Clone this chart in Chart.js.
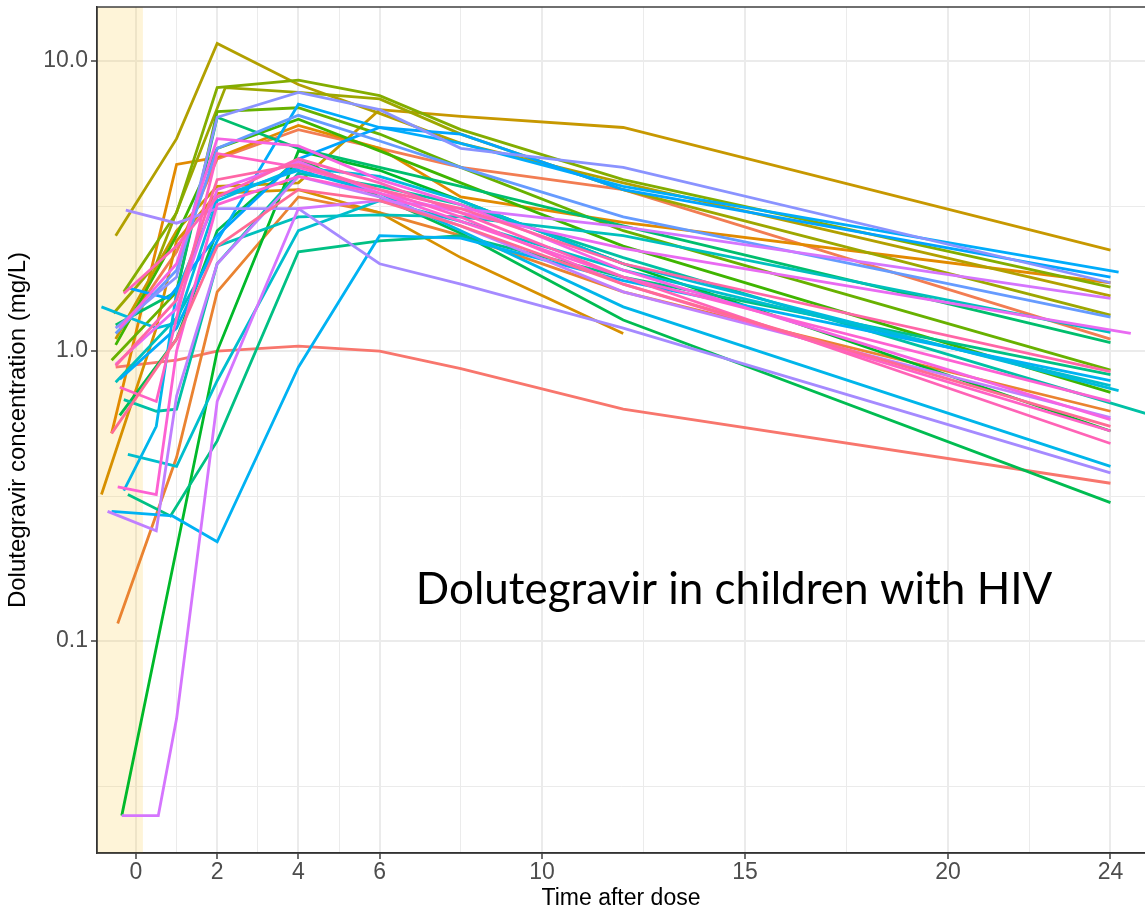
<!DOCTYPE html>
<html>
<head>
<meta charset="utf-8">
<script src="https://cdn.jsdelivr.net/npm/chart.js@4.4.1/dist/chart.umd.min.js"></script>
<style>
  html, body { margin: 0; padding: 0; background: #fff; }
  #wrap { width: 1145px; height: 913px; }
</style>
</head>
<body>
<div id="wrap"><canvas id="pk"></canvas></div>
<script>
// sampling times (h after dose) per participant, negative = pre-dose trough
const sampleTimes = [
  [-0.5, 1, 2, 4, 6, 8, 12, 24],
  [-0.3, 1, 2, 4, 6, 8, 12, 24],
  [-0.45, 1, 2, 4, 6, 8, 12, 24],
  [-0.6, 1, 2, 4, 6, 8, 12, 24],
  [-0.85, 0.5, 1, 2, 4, 6, 8, 12],
  [-0.5, 1, 2, 4, 6, 8, 12, 24],
  [-0.5, 1, 2, 4, 6, 8, 12, 24],
  [-0.55, 0.5, 2.2, 4, 6, 8, 12, 24],
  [-0.3, 1, 2, 4, 6, 8, 12, 24],
  [-0.6, 1, 2, 4, 6, 8, 12, 24],
  [-0.5, 1, 2, 4, 6, 8, 12, 24],
  [-0.35, 2, 4, 6, 8, 12, 24],
  [-0.4, 1, 2, 4, 6, 8, 12, 24],
  [-0.5, 1, 2, 4, 6, 8, 12, 24],
  [-0.2, 0.85, 2, 4, 6, 8, 12, 24],
  [-0.3, 0.5, 1, 2, 4, 6, 8, 12, 25.2],
  [-0.5, 1, 2, 4, 6, 8, 12, 24],
  [-0.2, 1, 2, 4, 6, 8, 12, 24],
  [-0.85, 0.5, 1, 2, 4, 6, 8, 12, 24.2],
  [-0.3, 0.5, 1, 2, 4, 6, 8, 12, 24],
  [-0.6, 0.9, 2, 4, 6, 8, 12, 24],
  [-0.4, 1, 2, 4, 6, 8, 12, 24.2],
  [-0.2, 0.8, 2, 4, 6, 8, 12, 24],
  [-0.5, 1, 2, 4, 6, 8, 12, 24],
  [-0.5, 1, 2, 4, 6, 8, 12, 24],
  [-0.25, 1, 2, 4, 6, 8, 12, 24],
  [-0.7, 0.5, 1, 2, 4, 6, 8, 12, 24],
  [-0.35, 0.55, 1, 2, 4, 6, 8, 12, 24],
  [-0.5, 1, 2, 4, 6, 8, 12, 24.5],
  [-0.4, 1, 2, 4, 6, 8, 12, 24],
  [-0.45, 0.5, 1, 2, 4, 6, 8, 12, 24],
  [-0.4, 0.5, 1, 2, 4, 6, 8, 12, 24],
  [-0.3, 1, 2, 4, 6, 8, 12, 24],
  [-0.5, 1, 2, 4, 6, 8, 12, 24],
  [-0.6, 1, 2, 4, 6, 8, 12, 24]
];

// dolutegravir concentrations (mg/L), same order as sampleTimes
const concentrations = [
  [0.88, 0.93, 1.0, 1.04, 1.0, 0.87, 0.63, 0.35],
  [1.2, 2.2, 4.6, 5.8, 5.0, 4.3, 3.6, 1.10],
  [0.115, 0.43, 1.6, 3.4, 3.0, 2.5, 1.6, 0.62],
  [0.52, 4.4, 4.65, 6.0, 5.0, 3.4, 2.78, 1.72],
  [0.32, 1.2, 2.4, 3.5, 3.6, 3.0, 2.1, 1.15],
  [1.1, 2.6, 3.7, 3.8, 6.8, 6.45, 5.9, 2.23],
  [2.5, 5.4, 11.5, 8.3, 6.6, 5.2, 3.8, 1.55],
  [1.35, 2.0, 8.1, 7.8, 7.4, 5.6, 3.6, 1.33],
  [1.6, 3.0, 8.1, 8.6, 7.6, 5.8, 3.9, 1.66],
  [0.93, 1.6, 6.7, 6.9, 5.6, 4.3, 2.6, 0.86],
  [1.05, 2.5, 5.0, 6.3, 4.9, 3.8, 2.3, 0.72],
  [0.025, 1.0, 4.9, 4.2, 3.3, 2.0, 0.53],
  [0.6, 1.1, 2.6, 4.6, 3.4, 2.55, 1.28, 0.30],
  [1.23, 1.6, 6.4, 5.0, 4.3, 3.7, 2.7, 1.07],
  [0.32, 0.27, 0.49, 2.2, 2.4, 2.5, 1.8, 0.83],
  [0.68, 0.62, 0.63, 2.0, 4.1, 3.7, 3.2, 2.1, 0.59],
  [0.78, 1.3, 2.3, 2.9, 2.95, 2.9, 2.5, 1.16],
  [0.44, 0.40, 0.79, 2.6, 3.3, 2.8, 1.9, 0.76],
  [1.42, 1.2, 1.25, 3.3, 4.3, 4.0, 3.3, 2.0, 0.73],
  [0.33, 0.55, 1.6, 3.4, 4.2, 3.5, 2.6, 1.42, 0.40],
  [0.28, 0.27, 0.22, 0.88, 2.5, 2.45, 1.75, 0.79],
  [0.8, 1.2, 2.4, 7.1, 5.9, 5.2, 3.7, 1.87],
  [1.65, 1.52, 2.5, 4.6, 5.9, 5.6, 3.6, 1.80],
  [1.15, 1.9, 5.0, 6.5, 5.3, 4.3, 2.9, 1.31],
  [1.2, 1.8, 6.4, 7.8, 6.8, 5.0, 4.3, 1.72],
  [3.06, 2.76, 3.1, 3.1, 2.0, 1.7, 1.2, 0.38],
  [0.28, 0.24, 0.7, 2.0, 4.0, 3.4, 2.7, 1.6, 0.59],
  [0.025, 0.025, 0.054, 0.67, 3.1, 3.3, 3.1, 2.68, 1.52],
  [0.9, 1.4, 3.6, 4.5, 3.5, 3.0, 2.26, 1.15],
  [1.2, 2.0, 5.4, 5.1, 3.9, 3.2, 1.9, 0.58],
  [0.34, 0.32, 1.0, 3.2, 4.0, 3.5, 2.8, 1.8, 0.67],
  [0.75, 0.67, 1.3, 4.8, 4.3, 3.6, 2.9, 1.7, 0.53],
  [1.58, 2.3, 3.4, 4.6, 3.8, 3.0, 1.8, 0.48],
  [0.89, 1.5, 3.9, 4.4, 3.6, 3.1, 2.0, 0.85],
  [0.52, 1.1, 2.3, 3.6, 3.3, 2.7, 1.7, 0.55]
];

// line hue per participant (hcl wheel, ggplot-like)
const subjectHues = [15, 24, 33, 42, 52, 64, 78, 90, 102, 112, 122, 132, 142, 152, 162, 178,
  190, 200, 210, 220, 228, 236, 246, 256, 264, 272, 282, 292, 304, 316, 326, 334, 342, 350, 358];

const xTicks = [0, 2, 4, 6, 10, 15, 20, 24];
const xMinorTicks = [1, 3, 5, 8, 12.5, 17.5, 22];
const yTicks = [0.1, 1, 10];
const yTickLabels = ["0.1", "1.0", "10.0"];
const yMinorTicks = [Math.pow(10, -1.5), Math.pow(10, -0.5), Math.pow(10, 0.5)];

const dosingWindowEnd = 0.17;
const noteText = "Dolutegravir in children with HIV";

// polar LUV -> sRGB hex
function hcl(h, c, l) {
  const hr = h * Math.PI / 180;
  const U = c * Math.cos(hr), V = c * Math.sin(hr);
  const Y = l > 8 ? Math.pow((l + 16) / 116, 3) : l / 903.3;
  const Xn = 0.95047, Yn = 1.0, Zn = 1.08883;
  const un = 4 * Xn / (Xn + 15 * Yn + 3 * Zn);
  const vn = 9 * Yn / (Xn + 15 * Yn + 3 * Zn);
  const u = U / (13 * l) + un, v = V / (13 * l) + vn;
  const X = Y * 9 * u / (4 * v);
  const Z = Y * (12 - 3 * u - 20 * v) / (4 * v);
  const lin = [
    3.2404542 * X - 1.5371385 * Y - 0.4985314 * Z,
    -0.9692660 * X + 1.8760108 * Y + 0.0415560 * Z,
    0.0556434 * X - 0.2040259 * Y + 1.0572252 * Z
  ];
  return "#" + lin.map((x) => {
    let g = x <= 0.0031308 ? 12.92 * x : 1.055 * Math.pow(x, 1 / 2.4) - 0.055;
    g = Math.round(Math.min(1, Math.max(0, g)) * 255);
    return g.toString(16).padStart(2, "0");
  }).join("");
}

function near(a, b) {
  return Math.abs(a - b) < 1e-6 * Math.max(1, Math.abs(b));
}

const datasets = sampleTimes.map((ts, i) => ({
  data: ts.map((t, k) => ({ x: t, y: concentrations[i][k] })),
  borderColor: hcl(subjectHues[i], 100, 65),
  borderWidth: 2.8,
  pointRadius: 0,
  tension: 0,
  fill: false,
  order: sampleTimes.length - i
}));

const panelExtras = {
  id: "panelExtras",
  beforeDatasetsDraw(chart) {
    const { ctx, chartArea, scales } = chart;
    const xr = scales.x.getPixelForValue(dosingWindowEnd);
    ctx.save();
    ctx.fillStyle = "rgba(252, 200, 60, 0.2)";
    ctx.fillRect(chartArea.left, chartArea.top, xr - chartArea.left, chartArea.bottom - chartArea.top);
    ctx.restore();
  },
  afterDatasetsDraw(chart) {
    const { ctx, chartArea, scales } = chart;
    ctx.save();
    // annotation
    ctx.font = '44px "Lato", "Open Sans", sans-serif';
    ctx.fillStyle = "#000";
    ctx.textAlign = "center";
    ctx.textBaseline = "alphabetic";
    ctx.fillText(noteText, scales.x.getPixelForValue(14.73), scales.y.getPixelForValue(0.134));
    // panel border
    ctx.strokeStyle = "#333333";
    ctx.lineWidth = 1.4;
    ctx.strokeRect(chartArea.left, chartArea.top, chartArea.right - chartArea.left + 2, chartArea.bottom - chartArea.top);
    ctx.restore();
  }
};

new Chart(document.getElementById("pk"), {
  type: "line",
  data: { datasets },
  plugins: [panelExtras],
  options: {
    responsive: true,
    maintainAspectRatio: false,
    animation: false,
    layout: { padding: { top: 7, right: 0, left: 0, bottom: 0 } },
    plugins: { legend: { display: false }, tooltip: { enabled: false } },
    scales: {
      x: {
        type: "linear",
        min: -0.96,
        max: 24.85,
        afterBuildTicks: (scale) => {
          scale.ticks = xTicks.concat(xMinorTicks).map((v) => ({ value: v }));
        },
        afterFit: (scale) => {
          scale.height = 60;
          scale.paddingLeft = 0;
          scale.paddingRight = 0;
        },
        ticks: {
          autoSkip: false,
          maxRotation: 0,
          padding: 0,
          color: "#4D4D4D",
          font: { family: "Liberation Sans, Arial, sans-serif", size: 23 },
          callback: (v) => (xTicks.includes(v) ? String(v) : "")
        },
        grid: {
          color: "#EBEBEB",
          lineWidth: (c) => (c.tick && xTicks.includes(c.tick.value) ? 2 : 1),
          tickColor: (c) => (c.tick && xTicks.includes(c.tick.value) ? "#333333" : "rgba(0,0,0,0)"),
          tickLength: 6,
          tickWidth: 1.4
        },
        border: { display: true, color: "#333333", width: 1.4 },
        title: {
          display: true,
          text: "Time after dose",
          color: "#000",
          font: { family: "Liberation Sans, Arial, sans-serif", size: 23 },
          padding: { top: 0, bottom: 1 }
        }
      },
      y: {
        type: "logarithmic",
        min: 0.01858,
        max: 15.36,
        bounds: "data",
        afterBuildTicks: (scale) => {
          scale.ticks = yMinorTicks.concat(yTicks).sort((a, b) => a - b).map((v) => ({ value: v }));
        },
        afterFit: (scale) => {
          scale.width = 97;
          scale.paddingTop = 0;
          scale.paddingBottom = 0;
        },
        ticks: {
          autoSkip: false,
          padding: 3,
          color: "#4D4D4D",
          font: { family: "Liberation Sans, Arial, sans-serif", size: 23 },
          callback: (v) => {
            const k = yTicks.findIndex((t) => near(v, t));
            return k >= 0 ? yTickLabels[k] : "";
          }
        },
        grid: {
          color: "#EBEBEB",
          lineWidth: (c) => (c.tick && yTicks.some((t) => near(c.tick.value, t)) ? 2 : 1),
          tickColor: (c) => (c.tick && yTicks.some((t) => near(c.tick.value, t)) ? "#333333" : "rgba(0,0,0,0)"),
          tickLength: 6,
          tickWidth: 1.4
        },
        border: { display: true, color: "#333333", width: 1.4 },
        title: {
          display: true,
          text: "Dolutegravir concentration (mg/L)",
          color: "#000",
          font: { family: "Liberation Sans, Arial, sans-serif", size: 24 },
          padding: { top: 4, bottom: 0 }
        }
      }
    }
  }
});
</script>
</body>
</html>
